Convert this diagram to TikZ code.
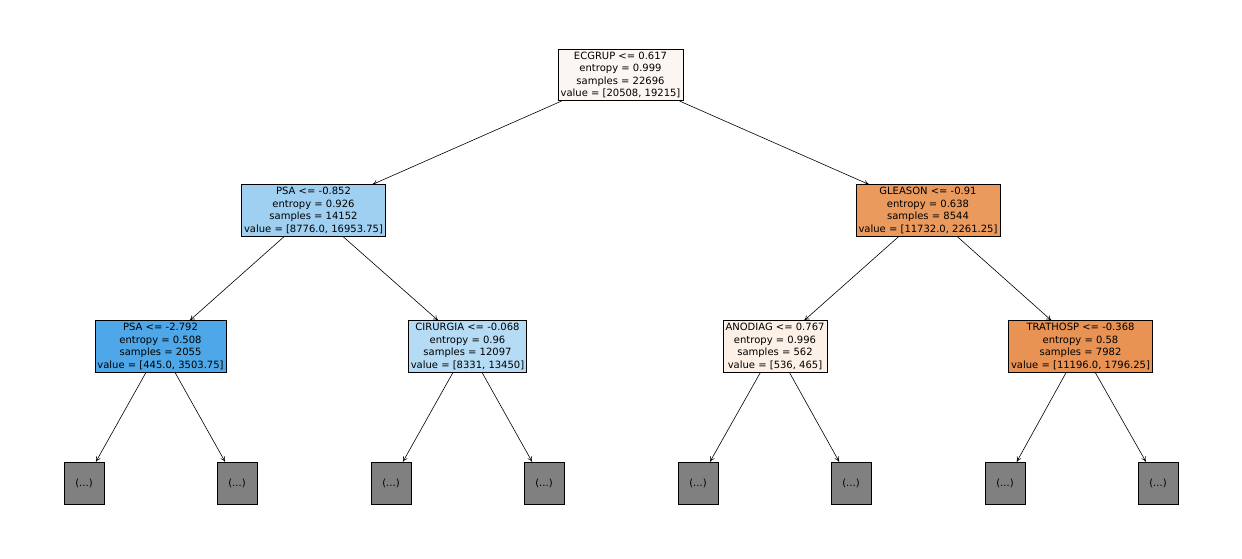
\documentclass[tikz,border=0pt]{standalone}
\usepackage{fontspec}
\setmainfont{DejaVu Sans}
\usetikzlibrary{arrows.meta}
\definecolor{croot}{HTML}{FCF6F2}
\definecolor{cpsa}{HTML}{9FD0F2}
\definecolor{cgle}{HTML}{EB9A5E}
\definecolor{cpsb}{HTML}{4EA7E8}
\definecolor{ccir}{HTML}{B6DBF5}
\definecolor{cano}{HTML}{FDF0E7}
\definecolor{ctra}{HTML}{E89254}
\tikzset{
 tnode/.style={draw, line width=0.6pt, align=center, font=\fontsize{10}{12.6}\selectfont, inner sep=2.5pt},
 leaf/.style={draw, line width=0.6pt, fill=gray!100!white, fill=black!50, minimum width=40pt, minimum height=42pt, font=\fontsize{10}{12}\selectfont},
 edge/.style={line width=0.6pt, -{To[length=5pt,width=5pt]}}
}
\begin{document}
\begin{tikzpicture}[x=1pt,y=-1pt]
\useasboundingbox (0,0) rectangle (1242,558);
\node[tnode,fill=croot] (r) at (620.5,75) {ECGRUP <= 0.617\\entropy = 0.999\\samples = 22696\\value = [20508, 19215]};
\node[tnode,fill=cpsa] (a) at (313.5,210.5) {PSA <= -0.852\\entropy = 0.926\\samples = 14152\\value = [8776.0, 16953.75]};
\node[tnode,fill=cgle] (b) at (928,210.5) {GLEASON <= -0.91\\entropy = 0.638\\samples = 8544\\value = [11732.0, 2261.25]};
\node[tnode,fill=cpsb] (c) at (160.5,346.5) {PSA <= -2.792\\entropy = 0.508\\samples = 2055\\value = [445.0, 3503.75]};
\node[tnode,fill=ccir] (d) at (467.5,346.5) {CIRURGIA <= -0.068\\entropy = 0.96\\samples = 12097\\value = [8331, 13450]};
\node[tnode,fill=cano] (e) at (775,346.5) {ANODIAG <= 0.767\\entropy = 0.996\\samples = 562\\value = [536, 465]};
\node[tnode,fill=ctra] (f) at (1080.5,346.5) {TRATHOSP <= -0.368\\entropy = 0.58\\samples = 7982\\value = [11196.0, 1796.25]};
\foreach \n/\x in {l1/84,l2/237,l3/391,l4/544,l5/698,l6/851,l7/1005,l8/1158}
  \node[leaf] (\n) at (\x,483) {(...)};
\draw[edge] (r) -- (a); \draw[edge] (r) -- (b);
\draw[edge] (a) -- (c); \draw[edge] (a) -- (d);
\draw[edge] (b) -- (e); \draw[edge] (b) -- (f);
\draw[edge] (c) -- (l1); \draw[edge] (c) -- (l2);
\draw[edge] (d) -- (l3); \draw[edge] (d) -- (l4);
\draw[edge] (e) -- (l5); \draw[edge] (e) -- (l6);
\draw[edge] (f) -- (l7); \draw[edge] (f) -- (l8);
\end{tikzpicture}
\end{document}
